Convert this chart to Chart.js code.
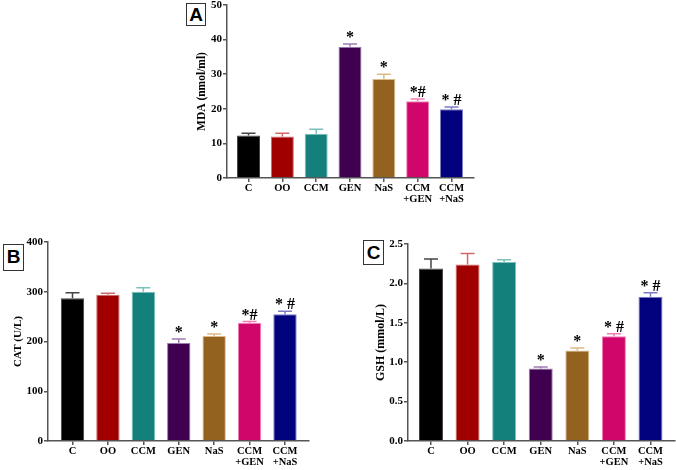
<!DOCTYPE html>
<html lang="en">
<head>
<meta charset="UTF-8">
<title>MDA, CAT, GSH</title>
<script src="https://cdn.jsdelivr.net/npm/chart.js"></script>
<style>
    body { margin: 0; padding: 0; background: #fff; }
    #wrap { position: relative; width: 676px; height: 470px; overflow: hidden; background: #fff; }
    canvas { position: absolute; }
    .tag {
        position: absolute;
        border: 1px solid #333;
        background: #fff;
        font-family: "Liberation Sans", Arial, sans-serif;
        font-weight: bold;
        font-size: 19px;
        line-height: 24px;
        text-align: center;
        color: #000;
    }
</style>
</head>
<body>
<div id="wrap">
    <canvas id="chartA" width="290" height="219" style="left:190px; top:-5px;"></canvas>
    <canvas id="chartB" width="315" height="238" style="left:0px; top:232px;"></canvas>
    <canvas id="chartC" width="306" height="236" style="left:370px; top:234px;"></canvas>
    <div class="tag" style="left:186px; top:3px; width:18px; height:21px; line-height:21px;">A</div>
    <div class="tag" style="left:3px; top:244px; width:19px; height:25px;">B</div>
    <div class="tag" style="left:363px; top:240px; width:19px; height:23px; line-height:23px;">C</div>
</div>

<script>
    // groups
    const groups = [['C'], ['OO'], ['CCM'], ['GEN'], ['NaS'], ['CCM', '+GEN'], ['CCM', '+NaS']];
    const barColors = ['#000000', '#a10000', '#13807b', '#400050', '#94621f', '#d1066b', '#02027f'];
    const edgeColors = ['#444444', '#d06a6a', '#7dbfbb', '#9c7cb0', '#dcbb88', '#f27db4', '#7c7cc4'];

    // A - MDA (nmol/ml)
    const mdaMean = [12.3, 12.0, 12.8, 37.9, 28.6, 22.2, 19.9];
    const mdaErr  = [0.6, 0.9, 1.3, 0.8, 1.4, 0.6, 0.6];
    const mdaMarks = ['', '', '', '*', '*', '*#', '* #'];

    // B - CAT (U/L)
    const catMean = [287, 294, 300, 197, 211, 237, 255];
    const catErr  = [11, 3, 8, 8, 4, 3, 6];
    const catMarks = ['', '', '', '*', '*', '*#', '* #'];

    // C - GSH (mmol/L)
    const gshMean = [2.19, 2.24, 2.27, 0.92, 1.15, 1.33, 1.83];
    const gshErr  = [0.12, 0.14, 0.03, 0.02, 0.03, 0.03, 0.05];
    const gshMarks = ['', '', '', '*', '*', '* #', '* #'];

    const serif = '"Liberation Serif", "Times New Roman", serif';
    const axisColor = '#555555';

    // error bars + significance marks
    const errorPlugin = {
        id: 'errorBars',
        afterDatasetsDraw(chart, args, opts) {
            const ctx = chart.ctx;
            const x = chart.scales.x, y = chart.scales.y;
            ctx.save();
            opts.mean.forEach((m, i) => {
                const px = x.getPixelForValue(i);
                const top = y.getPixelForValue(m + opts.err[i]);
                const base = y.getPixelForValue(m);
                ctx.strokeStyle = edgeColors[i];
                ctx.lineWidth = 1.5;
                ctx.beginPath();
                ctx.moveTo(px, base);
                ctx.lineTo(px, top);
                ctx.moveTo(px - 7, top);
                ctx.lineTo(px + 7, top);
                ctx.stroke();
                if (opts.marks[i]) {
                    ctx.fillStyle = '#000';
                    ctx.font = 'bold 16px ' + serif;
                    ctx.textAlign = 'center';
                    ctx.textBaseline = 'alphabetic';
                    ctx.fillText(opts.marks[i], px, top - 2);
                }
            });
            ctx.restore();
        }
    };

    function makeChart(id, mean, err, marks, cfg) {
        new Chart(document.getElementById(id), {
            type: 'bar',
            data: {
                datasets: [{
                    data: mean.map((v, i) => ({ x: i, y: v })),
                    backgroundColor: barColors,
                    borderColor: edgeColors,
                    borderWidth: 1,
                    barPercentage: cfg.bar,
                    categoryPercentage: 1
                }]
            },
            options: {
                responsive: false,
                animation: false,
                layout: { padding: cfg.pad },
                plugins: {
                    legend: { display: false },
                    tooltip: { enabled: false },
                    errorBars: { mean: mean, err: err, marks: marks }
                },
                scales: {
                    x: {
                        type: 'linear',
                        offset: false,
                        min: cfg.xmin,
                        max: cfg.xmax,
                        afterBuildTicks: s => { s.ticks = groups.map((g, i) => ({ value: i })); },
                        afterFit: s => { s.height = cfg.xh; },
                        grid: { offset: false, drawOnChartArea: false, drawTicks: true, tickLength: 4, color: axisColor, lineWidth: 1.5 },
                        border: { color: axisColor, width: 1.5 },
                        ticks: {
                            autoSkip: false,
                            maxRotation: 0,
                            padding: 1,
                            color: '#000',
                            font: { family: serif, size: 10.5, weight: 'bold', lineHeight: 1.05 },
                            callback: v => groups[v]
                        }
                    },
                    y: {
                        min: 0,
                        max: cfg.ymax,
                        afterFit: s => { s.width = cfg.yw; },
                        grid: { drawOnChartArea: false, drawTicks: true, tickLength: 4, color: axisColor, lineWidth: 1.5 },
                        border: { color: axisColor, width: 1.5 },
                        ticks: {
                            stepSize: cfg.step,
                            padding: 1,
                            color: '#000',
                            font: { family: serif, size: 11, weight: 'bold' },
                            callback: v => cfg.dec ? v.toFixed(cfg.dec) : v
                        },
                        title: {
                            display: true,
                            text: cfg.title,
                            color: '#000',
                            padding: 0,
                            font: { family: serif, size: cfg.tsize, weight: 'bold' }
                        }
                    }
                }
            },
            plugins: [errorPlugin]
        });
    }

    makeChart('chartA', mdaMean, mdaErr, mdaMarks, {
        title: 'MDA (nmol/ml)', tsize: 11.5, ymax: 50, step: 10, dec: 0,
        xmin: -0.636, xmax: 6.665, bar: 0.68,
        yw: 32, xh: 36, pad: { left: 5, top: 10, right: 6, bottom: 0 }
    });

    makeChart('chartB', catMean, catErr, catMarks, {
        title: 'CAT (U/L)', tsize: 11, ymax: 400, step: 100, dec: 0,
        xmin: -0.692, xmax: 6.678, bar: 0.66,
        yw: 36, xh: 29, pad: { left: 12, top: 10, right: 6, bottom: 0 }
    });

    makeChart('chartC', gshMean, gshErr, gshMarks, {
        title: 'GSH (mmol/L)', tsize: 12, ymax: 2.5, step: 0.5, dec: 1,
        xmin: -0.628, xmax: 6.67, bar: 0.656,
        yw: 34, xh: 29, pad: { left: 4, top: 10, right: 1, bottom: 0 }
    });
</script>
</body>
</html>
